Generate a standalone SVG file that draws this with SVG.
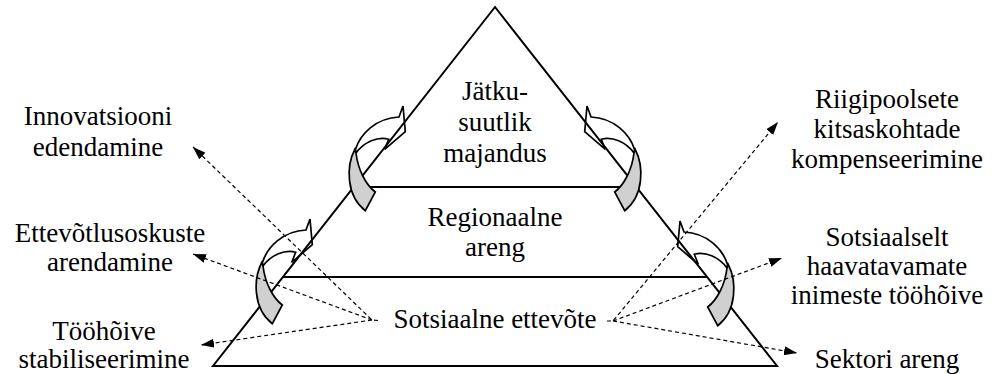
<svg xmlns="http://www.w3.org/2000/svg" width="992" height="374" viewBox="0 0 992 374">
  <style>
    .lbl text { font-size: 27px; fill: #000; text-anchor: middle; }
    .frame { fill: none; stroke: #000; stroke-width: 2; }
    .band { fill: none; stroke: #000; stroke-width: 1.7; stroke-linejoin: miter; }
    .back { fill: #d0d0d0; stroke: #000; stroke-width: 1.7; stroke-linejoin: miter; }
    .link { fill: none; stroke: #000; stroke-width: 1.2; stroke-dasharray: 4 3; marker-end: url(#head); }
  </style>
  <defs>
    <marker id="head" markerUnits="userSpaceOnUse" markerWidth="14" markerHeight="10" refX="13" refY="4.5" orient="auto">
      <path d="M0,0 L13,4.5 L0,9 Z" fill="#000"/>
    </marker>
    <!-- curled band arrow, pointing clockwise (up and over to the right) -->
    <g id="curl">
      <path class="band" d="M13.3,50 C18,34 34,18 57,17 L61,6 L63.3,31.7 L42.7,49.3 L46.7,39.3 C36,36 22,42 14,53 Z"/>
      <path class="back" d="M13,49 C4,66 4,96 23.3,110.7 L33.3,92 C24,85 16,70 14,53 Z"/>
    </g>
  </defs>

  <!-- pyramid with its three levels -->
  <g id="pyramid">
    <path class="frame" d="M495,7 L213,366 L777,366 Z"/>
    <line class="frame" x1="353.6" y1="187" x2="636.4" y2="187"/>
    <line class="frame" x1="283" y1="277" x2="707" y2="277"/>
  </g>

  <g id="level-top" class="lbl" font-family="Liberation Serif, serif">
    <text x="495" y="100">Jätku-</text>
    <text x="495" y="131">suutlik</text>
    <text x="495" y="162">majandus</text>
  </g>
  <g id="level-middle" class="lbl" font-family="Liberation Serif, serif">
    <text x="495" y="226">Regionaalne</text>
    <text x="495" y="256">areng</text>
  </g>
  <g id="level-base" class="lbl" font-family="Liberation Serif, serif">
    <text x="495" y="328">Sotsiaalne ettevõte</text>
  </g>

  <!-- curled arrows on the pyramid sides -->
  <g id="curl-left-upper"><use href="#curl" transform="translate(342,100)"/></g>
  <g id="curl-left-lower"><use href="#curl" transform="translate(249,213)"/></g>
  <g id="curl-right-upper"><use href="#curl" transform="translate(990,0) scale(-1,1) translate(342,100)"/></g>
  <g id="curl-right-lower"><use href="#curl" transform="translate(990,2) scale(-1,1) translate(249,213)"/></g>

  <!-- outcome labels -->
  <g id="innovation" class="lbl" font-family="Liberation Serif, serif">
    <text x="98" y="125">Innovatsiooni</text>
    <text x="98" y="156">edendamine</text>
  </g>
  <g id="entrepreneurship" class="lbl" font-family="Liberation Serif, serif">
    <text x="110" y="242">Ettevõtlusoskuste</text>
    <text x="110" y="271">arendamine</text>
  </g>
  <g id="employment" class="lbl" font-family="Liberation Serif, serif">
    <text x="104" y="340">Tööhõive</text>
    <text x="104" y="368">stabiliseerimine</text>
  </g>
  <g id="compensation" class="lbl" font-family="Liberation Serif, serif">
    <text x="887" y="108">Riigipoolsete</text>
    <text x="887" y="138">kitsaskohtade</text>
    <text x="887" y="168">kompenseerimine</text>
  </g>
  <g id="vulnerable" class="lbl" font-family="Liberation Serif, serif">
    <text x="887" y="246">Sotsiaalselt</text>
    <text x="887" y="275">haavatavamate</text>
    <text x="887" y="304">inimeste tööhõive</text>
  </g>
  <g id="sector" class="lbl" font-family="Liberation Serif, serif">
    <text x="887" y="368">Sektori areng</text>
  </g>

  <!-- dashed connectors from the social enterprise level -->
  <g id="connectors">
    <path class="link" d="M378,320.5 L372,320 L193,147"/>
    <path class="link" d="M372,320 L193,254"/>
    <path class="link" d="M372,320 L201,345"/>
    <path class="link" d="M607,321 L613,321 L778,122"/>
    <path class="link" d="M613,321 L782,258"/>
    <path class="link" d="M613,321 L797,353"/>
  </g>
</svg>
